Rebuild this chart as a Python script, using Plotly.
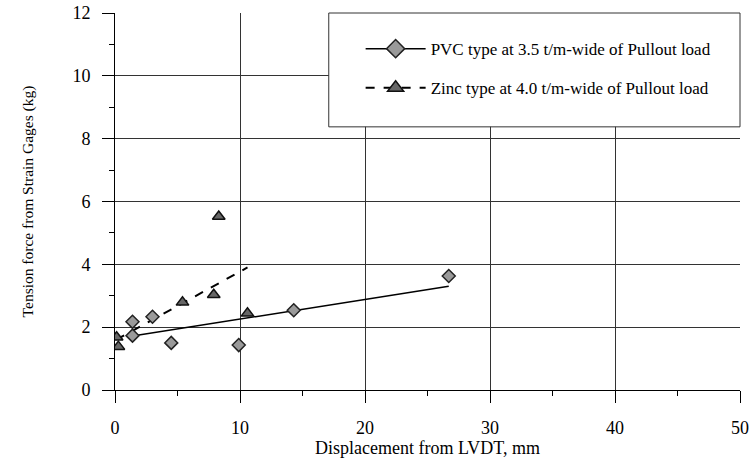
import plotly.graph_objects as go

pvc_x = [1.4, 1.4, 3.0, 4.5, 9.9, 14.3, 26.7]
pvc_y = [2.17, 1.73, 2.33, 1.5, 1.43, 2.54, 3.63]
zinc_x = [0.13, 0.27, 5.4, 7.9, 8.3, 10.6]
zinc_y = [1.68, 1.38, 2.79, 3.03, 5.52, 2.44]
pvc_trend_x = [1.4, 26.7]
pvc_trend_y = [1.72, 3.3]
zinc_trend_x = [0.1, 10.6]
zinc_trend_y = [1.6, 3.9]

x_ticks = [0, 10, 20, 30, 40, 50]
y_ticks = [0, 2, 4, 6, 8, 10, 12]

font = "Liberation Serif, Times New Roman, serif"
fig = go.Figure()
fig.add_trace(go.Scatter(x=pvc_trend_x, y=pvc_trend_y, mode="lines",
                         line=dict(color="black", width=1.5), showlegend=False))
fig.add_trace(go.Scatter(x=zinc_trend_x, y=zinc_trend_y, mode="lines",
                         line=dict(color="black", width=2, dash="dash"), showlegend=False))
fig.add_trace(go.Scatter(x=pvc_x, y=pvc_y, mode="markers",
                         marker=dict(symbol="diamond", size=10, color="#9a9a9a",
                                     line=dict(color="#222", width=1.5)),
                         showlegend=False))
fig.add_trace(go.Scatter(x=zinc_x, y=zinc_y, mode="markers",
                         marker=dict(symbol="triangle-up", size=11, color="#666",
                                     line=dict(color="#111", width=1.5)),
                         showlegend=False))
# legend entries
fig.add_trace(go.Scatter(x=[None], y=[None], mode="lines+markers",
                         name="PVC type at 3.5 t/m-wide of Pullout load", legendgroup="a",
                         line=dict(color="black", width=1.5),
                         marker=dict(symbol="diamond", size=14, color="#9a9a9a",
                                     line=dict(color="#222", width=1.5))))
fig.add_trace(go.Scatter(x=[None], y=[None], mode="lines+markers",
                         name="Zinc type at 4.0 t/m-wide of Pullout load", legendgroup="b",
                         line=dict(color="black", width=2, dash="dash"),
                         marker=dict(symbol="triangle-up", size=14, color="#666",
                                     line=dict(color="#111", width=1.5))))

fig.add_shape(type="rect", xref="paper", yref="paper", x0=0.342, x1=1.0, y0=0.698, y1=1.0,
              line=dict(color="#333", width=1), fillcolor="white", layer="above")

fig.update_layout(
    width=753, height=464,
    margin=dict(l=115, r=13, t=13, b=74),
    paper_bgcolor="white", plot_bgcolor="white",
    font=dict(family=font, size=17, color="black"),
    legend=dict(x=0.393, y=0.952, xanchor="left", yanchor="top",
                bgcolor="rgba(0,0,0,0)", borderwidth=0,
                font=dict(family=font, size=17), itemwidth=60,
                tracegroupgap=14),
    xaxis=dict(range=[0, 50], tickvals=x_ticks, showgrid=True, gridcolor="#333",
               gridwidth=1, zeroline=False, showline=True, linecolor="black",
               ticks="outside", ticklen=12, tickcolor="black", ticklabelstandoff=9,
               tickfont=dict(size=18), automargin=False,
               minor=dict(dtick=5, ticks="outside", ticklen=5, tickcolor="black", showgrid=False),
               title=dict(text="Displacement from LVDT, mm", font=dict(size=18), standoff=2)),
    yaxis=dict(range=[0, 12], tickvals=y_ticks, showgrid=True, gridcolor="#333",
               gridwidth=1, zeroline=False, showline=True, linecolor="black",
               ticks="outside", ticklen=12, tickcolor="black", ticklabelstandoff=8,
               tickfont=dict(size=18), automargin=False,
               minor=dict(dtick=1, ticks="outside", ticklen=5, tickcolor="black", showgrid=False),
               title=dict(text="Tension force from Strain Gages (kg)", font=dict(size=15.5), standoff=34)),
)
fig.write_html("out.html")
